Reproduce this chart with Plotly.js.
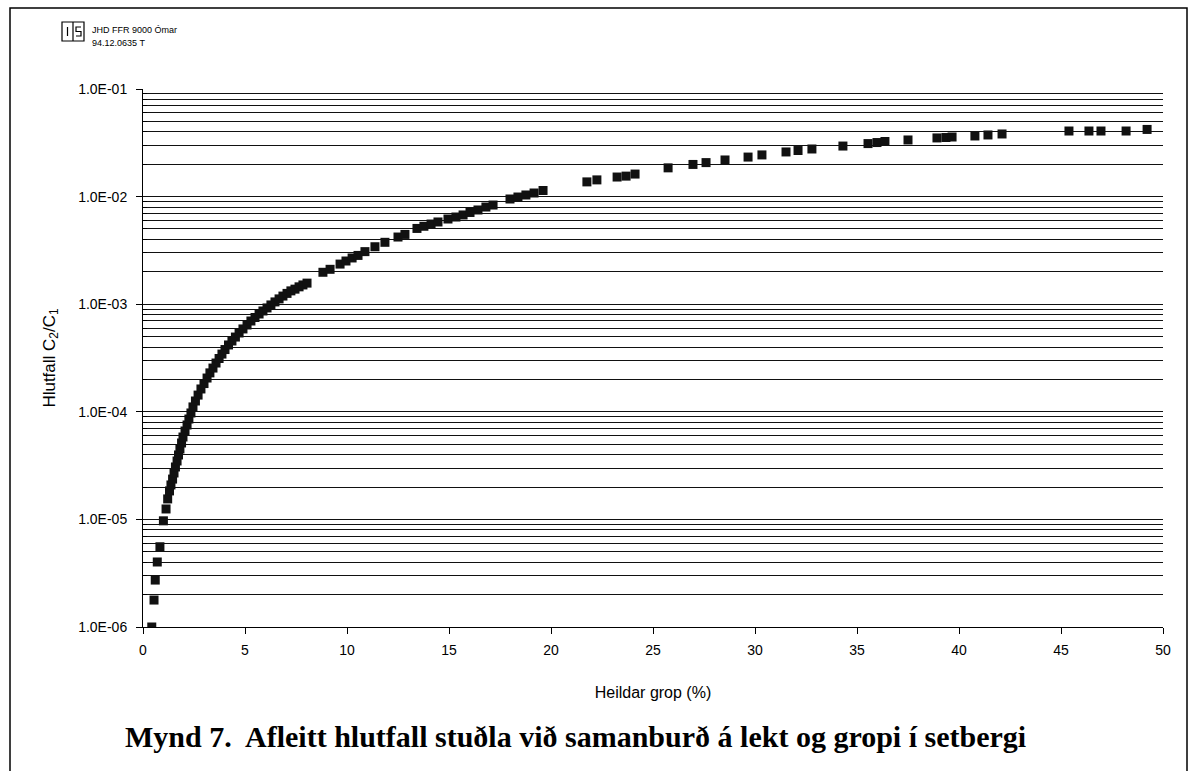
<!DOCTYPE html>
<html>
<head>
<meta charset="utf-8">
<script src="https://cdn.plot.ly/plotly-3.0.1.min.js"></script>
<style>html,body{margin:0;padding:0;background:#fff;}#chart{width:1194px;height:771px;}</style>
</head>
<body>
<div id="chart"></div>
<script>
// Heildar grop (%)
const porosity = [
  0.43, 0.54, 0.60, 0.70, 0.83, 1.00, 1.13, 1.21,
  1.30, 1.37, 1.45, 1.52, 1.59, 1.67, 1.74, 1.81, 1.89, 1.96,
  2.06, 2.16, 2.25, 2.35, 2.45, 2.57, 2.70, 2.84, 2.99, 3.14,
  3.28, 3.43, 3.58, 3.73, 3.87, 4.02, 4.19, 4.36, 4.53, 4.71,
  4.90, 5.10, 5.29, 5.49, 5.69, 5.88, 6.08, 6.27, 6.47, 6.67,
  6.86, 7.06, 7.25, 7.45, 7.65, 7.84, 8.04,
  8.82, 9.17, 9.66, 9.95, 10.25, 10.54, 10.88, 11.37, 11.86, 12.50,
  12.84, 13.43, 13.77, 14.12, 14.46, 14.95, 15.34, 15.69, 16.03, 16.42,
  16.81, 17.16, 17.99, 18.38, 18.77, 19.17, 19.61,
  21.76, 22.25, 23.24, 23.68, 24.12, 25.74, 26.96, 27.60, 28.53, 29.66,
  30.34, 31.52, 32.11, 32.79, 34.31, 35.54, 35.98, 36.37, 37.50, 38.92,
  39.36, 39.66, 40.78, 41.42, 42.11, 45.39, 46.37, 46.96, 48.19, 49.22
];
// Hlutfall C2/C1
const ratio = [
  1.00e-6, 1.78e-6, 2.73e-6, 4.02e-6, 5.57e-6, 9.7e-6, 1.25e-5, 1.55e-5,
  1.84e-5, 2.09e-5, 2.37e-5, 2.70e-5, 3.07e-5, 3.49e-5, 3.97e-5, 4.51e-5, 5.13e-5, 5.83e-5,
  6.63e-5, 7.54e-5, 8.57e-5, 9.75e-5, 1.11e-4, 1.26e-4, 1.43e-4, 1.63e-4, 1.83e-4, 2.06e-4,
  2.30e-4, 2.55e-4, 2.84e-4, 3.13e-4, 3.44e-4, 3.79e-4, 4.18e-4, 4.55e-4, 4.95e-4, 5.40e-4,
  5.89e-4, 6.41e-4, 6.98e-4, 7.52e-4, 8.11e-4, 8.65e-4, 9.23e-4, 9.84e-4, 1.05e-3, 1.12e-3,
  1.19e-3, 1.26e-3, 1.33e-3, 1.38e-3, 1.45e-3, 1.51e-3, 1.57e-3,
  1.98e-3, 2.11e-3, 2.36e-3, 2.52e-3, 2.69e-3, 2.84e-3, 3.08e-3, 3.42e-3, 3.76e-3, 4.21e-3,
  4.45e-3, 5.06e-3, 5.30e-3, 5.56e-3, 5.81e-3, 6.19e-3, 6.46e-3, 6.75e-3, 7.12e-3, 7.51e-3,
  8.00e-3, 8.35e-3, 9.50e-3, 9.91e-3, 1.035e-2, 1.08e-2, 1.14e-2,
  1.37e-2, 1.43e-2, 1.52e-2, 1.55e-2, 1.62e-2, 1.85e-2, 1.99e-2, 2.07e-2, 2.19e-2, 2.33e-2,
  2.44e-2, 2.60e-2, 2.68e-2, 2.77e-2, 2.95e-2, 3.11e-2, 3.18e-2, 3.25e-2, 3.36e-2, 3.51e-2,
  3.54e-2, 3.58e-2, 3.66e-2, 3.74e-2, 3.82e-2, 4.07e-2, 4.07e-2, 4.07e-2, 4.07e-2, 4.21e-2
];
const yTickVals = [1e-6, 1e-5, 1e-4, 1e-3, 1e-2, 1e-1];
const yTickText = ["1.0E-06", "1.0E-05", "1.0E-04", "1.0E-03", "1.0E-02", "1.0E-01"];
const xTickVals = [0, 5, 10, 15, 20, 25, 30, 35, 40, 45, 50];

const minorVals = [];
for (let k = -6; k <= -2; k++) {
  for (let m = 2; m <= 9; m++) minorVals.push(m * Math.pow(10, k));
}

const trace = {
  x: porosity, y: ratio, type: 'scatter', mode: 'markers',
  marker: {symbol: 'square', size: 9, color: '#111'},
  hoverinfo: 'x+y'
};

// plot area: x 143..1163, y 89..627
const L = 143, R = 1163, T = 89, B = 627;
const px = v => (v - L) / (R - L);
const py = v => (B - v) / (B - T);

const layout = {
  width: 1194, height: 771,
  margin: {l: 143, r: 31, t: 89, b: 144},
  paper_bgcolor: '#fff', plot_bgcolor: '#fff',
  showlegend: false,
  font: {family: 'Liberation Sans, Arial, sans-serif', color: '#000', size: 14},
  xaxis: {
    range: [0, 50], tickmode: 'array', tickvals: xTickVals,
    showgrid: false, zeroline: false, showline: true, linecolor: '#000', linewidth: 1,
    ticks: 'outside', ticklen: 6, tickcolor: '#000',
    ticklabelstandoff: 4,
    tickfont: {size: 14},
    title: {text: 'Heildar grop (%)', font: {size: 16}, standoff: 30}
  },
  yaxis: {
    type: 'log', range: [-6, -1],
    tickmode: 'array', tickvals: yTickVals, ticktext: yTickText,
    showgrid: true, gridcolor: '#111', gridwidth: 1,
    zeroline: false, showline: true, linecolor: '#000', linewidth: 1,
    ticks: 'outside', ticklen: 6, tickcolor: '#000',
    ticklabelstandoff: 6,
    tickfont: {size: 14},
    minor: {tickmode: 'array', tickvals: minorVals, showgrid: true, gridcolor: '#111', gridwidth: 1, ticks: 'inside', ticklen: 4, tickcolor: '#000'},
    title: {text: 'Hlutfall C<sub>2</sub>/C<sub>1</sub>', font: {size: 17}, standoff: 18}
  },
  shapes: [
    {type: 'rect', xref: 'paper', yref: 'paper', x0: px(10), x1: px(1187), y0: py(780), y1: py(8), line: {color: '#000', width: 1.5}},
    {type: 'rect', xref: 'paper', yref: 'paper', x0: px(62), x1: px(84), y0: py(41), y1: py(22), line: {color: '#000', width: 1.2}},
    {type: 'line', xref: 'paper', yref: 'paper', x0: px(73), x1: px(73), y0: py(41), y1: py(22), line: {color: '#000', width: 1.2}},
    {type: 'line', xref: 'paper', yref: 'paper', x0: px(67.5), x1: px(67.5), y0: py(36), y1: py(27), line: {color: '#000', width: 1.2}},
    {type: 'path', xref: 'paper', yref: 'paper',
      path: 'M ' + px(81) + ' ' + py(27) + ' L ' + px(76) + ' ' + py(27) + ' L ' + px(76) + ' ' + py(31.5) + ' L ' + px(81) + ' ' + py(31.5) + ' L ' + px(81) + ' ' + py(36) + ' L ' + px(76) + ' ' + py(36),
      line: {color: '#000', width: 1.2}}
  ],
  annotations: [
    {xref: 'paper', yref: 'paper', x: px(90), y: py(30), xanchor: 'left', yanchor: 'middle', showarrow: false,
     text: 'JHD FFR 9000 Ómar', font: {size: 9, family: 'Liberation Sans, Arial, sans-serif'}},
    {xref: 'paper', yref: 'paper', x: px(90), y: py(43), xanchor: 'left', yanchor: 'middle', showarrow: false,
     text: '94.12.0635 T', font: {size: 9, family: 'Liberation Sans, Arial, sans-serif'}},
    {xref: 'paper', yref: 'paper', x: px(575), y: py(737), xanchor: 'center', yanchor: 'middle', showarrow: false,
     text: '<b>Mynd 7.  Afleitt hlutfall stuðla við samanburð á lekt og gropi í setbergi</b>',
     font: {size: 30, family: 'Liberation Serif, Times New Roman, serif'}}
  ]
};

Plotly.newPlot('chart', [trace], layout, {displayModeBar: false, staticPlot: true});
</script>
</body>
</html>
